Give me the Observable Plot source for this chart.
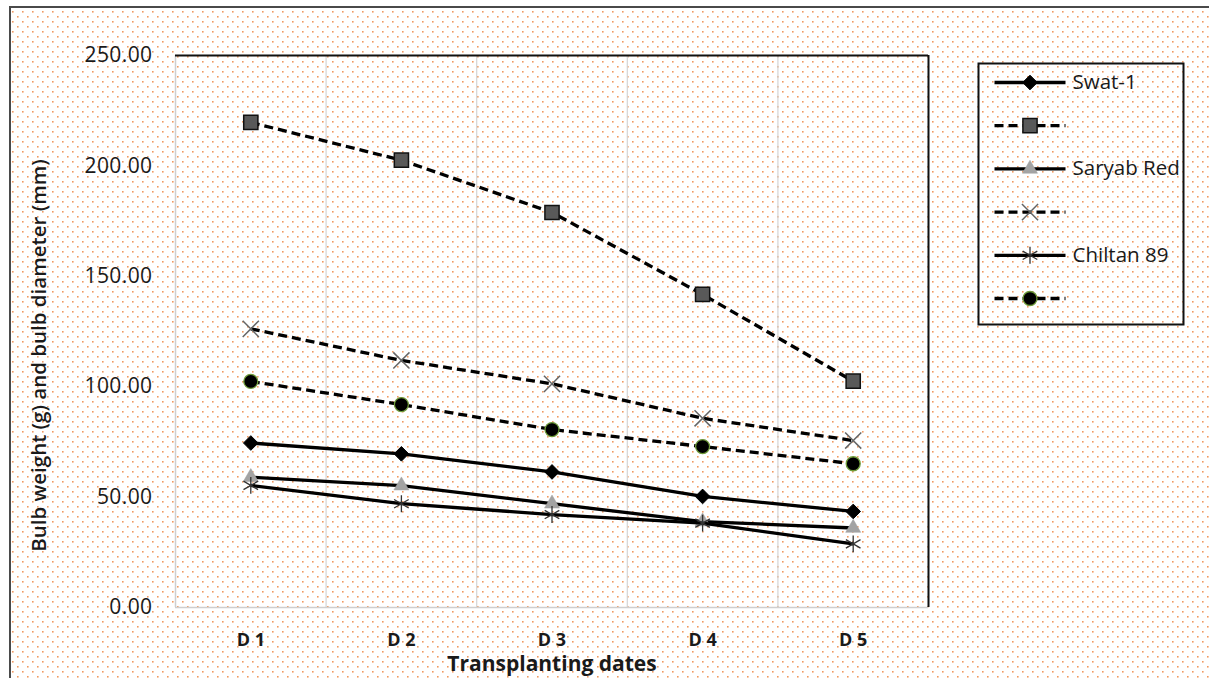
<!DOCTYPE html>
<html>
<head>
<meta charset="utf-8">
<script src="https://cdn.jsdelivr.net/npm/d3@7"></script>
<script src="https://cdn.jsdelivr.net/npm/@observablehq/plot@0.6"></script>
<style>
  html, body { margin: 0; padding: 0; background: #fff; }
  #page { position: relative; width: 1209px; height: 678px; overflow: hidden; background: #fff; font-family: "Open Sans", sans-serif; }
  #bg { position: absolute; left: 9px; top: 6px; width: 1220px; height: 700px;
        border-left: 2px solid #4a4a4a; border-top: 2px solid #4a4a4a;
        background-image: url("data:image/svg+xml,%3Csvg xmlns='http://www.w3.org/2000/svg' width='10' height='10'%3E%3Crect x='0' y='0' width='1.6' height='1.6' fill='%23f29a60'/%3E%3Crect x='5' y='5' width='1.6' height='1.6' fill='%23f29a60'/%3E%3C/svg%3E");
        background-position: 1px 3px; }
  #chart { position: absolute; left: 0; top: 0; }
  #legend { position: absolute; left: 977px; top: 62px; }
  .ytick text { letter-spacing: 0.4px; }
</style>
</head>
<body>
<div id="page">
  <div id="bg"></div>
  <div id="chart"></div>
  <div id="legend"></div>
</div>
<script>
// ---- data ----
const categories = ["D 1", "D 2", "D 3", "D 4", "D 5"];
const yTicks = [0, 50, 100, 150, 200, 250];
const swat1      = [74.5, 69.6, 61.4, 50.3, 43.5];
const swat1B     = [219.7, 202.6, 178.9, 141.8, 102.5];
const saryabRed  = [59.0, 55.2, 47.0, 38.9, 36.0];
const saryabRedB = [126.2, 111.9, 101.3, 85.7, 75.6];
const chiltan89  = [55.3, 47.0, 42.1, 38.2, 28.8];
const chiltan89B = [102.4, 91.9, 80.6, 72.9, 65.1];
const seriesNames = ["Swat-1", "", "Saryab Red", "", "Chiltan 89", ""];
const xTitle = "Transplanting dates";
const yTitle = "Bulb weight (g) and bulb diameter (mm)";

// ---- styles ----
const seriesValues = [swat1, swat1B, saryabRed, saryabRedB, chiltan89, chiltan89B];
const styles = [
  {dash: null,  symbol: "diamond2", r: 6.6, fill: "#000",    stroke: "#000",    sw: 1},
  {dash: "9,5", symbol: "square",   r: 8.0, fill: "#595959", stroke: "#111",    sw: 1.5},
  {dash: null,  symbol: "triangle", r: 5.6, fill: "#a3a3a3", stroke: "#a3a3a3", sw: 0.5},
  {dash: "9,5", symbol: "times",    r: 7.4, fill: "none",    stroke: "#666",    sw: 1.5},
  {dash: null,  symbol: "asterisk", r: 8.0, fill: "none",    stroke: "#333",    sw: 1.3},
  {dash: "9,5", symbol: "circle",   r: 7.0, fill: "#000",    stroke: "#6f9a3a", sw: 1.3}
];

const rows = categories.map((c, i) => {
  const o = {x: i + 1, cat: c};
  seriesValues.forEach((vals, k) => o["s" + k] = vals[i]);
  return o;
});
const gridX = categories.slice(1).map((_, i) => i + 1.5);

const seriesMarks = [];
styles.forEach((st, k) => {
  seriesMarks.push(Plot.line(rows, {x: "x", y: "s" + k, stroke: "#000", strokeWidth: 3.3,
    strokeDasharray: st.dash, strokeLinecap: "butt", strokeLinejoin: "round"}));
  seriesMarks.push(Plot.dot(rows, {x: "x", y: "s" + k, symbol: () => st.symbol, r: st.r,
    fill: st.fill, stroke: st.stroke, strokeWidth: st.sw}));
});

const chart = Plot.plot({
  width: 1209, height: 678,
  marginLeft: 175, marginRight: 281, marginTop: 55, marginBottom: 71,
  style: {background: "transparent", fontFamily: "'Open Sans', sans-serif", color: "#1a1a1a", overflow: "visible"},
  x: {domain: [0.5, categories.length + 0.5]},
  y: {domain: [0, 250]},
  symbol: {type: "identity"},
  marks: [
    Plot.ruleX(gridX, {stroke: "#d4d4d4", strokeWidth: 1.2}),
    Plot.ruleX([0.5], {stroke: "#cfcfcf", strokeWidth: 1.5}),
    Plot.ruleY([0], {stroke: "#cfcfcf", strokeWidth: 1.5}),
    Plot.ruleY([250], {stroke: "#111", strokeWidth: 2}),
    Plot.ruleX([categories.length + 0.5], {stroke: "#111", strokeWidth: 2}),
    Plot.axisY({ticks: yTicks, tickFormat: d3.format(".2f"), tickSize: 0, tickPadding: 23,
      fontSize: 21, label: null, fill: "#1a1a1a", className: "ytick"}),
    Plot.axisX({ticks: categories.map((_, i) => i + 1), tickFormat: d => categories[d - 1],
      tickSize: 0, tickPadding: 26, fontSize: 18, fontWeight: 700, label: null, fill: "#1a1a1a"}),
    Plot.text([xTitle], {frameAnchor: "bottom", dy: 57, lineAnchor: "middle", textAnchor: "middle",
      fontSize: 21, fontWeight: 700, fill: "#1a1a1a"}),
    Plot.text([yTitle], {frameAnchor: "left", dx: -136, dy: 24, rotate: -90, textAnchor: "middle",
      lineAnchor: "middle", fontSize: 20.5, fontWeight: 600, fill: "#1a1a1a"}),
    ...seriesMarks
  ]
});
document.getElementById("chart").appendChild(chart);

// ---- legend ----
const legendRows = seriesNames.map((name, i) => ({i, name, symbol: styles[i].symbol}));
const legendMarks = [Plot.frame({stroke: "#111", strokeWidth: 2, inset: 1})];
styles.forEach((st, k) => {
  const d = legendRows.filter(r => r.i === k);
  legendMarks.push(Plot.link(d, {x1: () => 17, x2: () => 88, y1: "i", y2: "i", stroke: "#000", strokeWidth: 3.3,
    strokeDasharray: st.dash, strokeLinecap: "butt"}));
  legendMarks.push(Plot.dot(d, {x: () => 52.5, y: "i", symbol: () => st.symbol, r: st.r,
    fill: st.fill, stroke: st.stroke, strokeWidth: st.sw}));
});
legendMarks.push(Plot.text(legendRows, {x: () => 95, y: "i", text: "name", textAnchor: "start",
  fontSize: 20.5, fill: "#1a1a1a"}));

const legend = Plot.plot({
  width: 207, height: 263,
  margin: 0,
  style: {background: "transparent", fontFamily: "'Open Sans', sans-serif", overflow: "visible"},
  x: {domain: [0, 207], range: [0, 207], axis: null},
  y: {domain: [0, 5], range: [20, 236], axis: null},
  symbol: {type: "identity"},
  marks: legendMarks
});
document.getElementById("legend").appendChild(legend);
</script>
</body>
</html>
